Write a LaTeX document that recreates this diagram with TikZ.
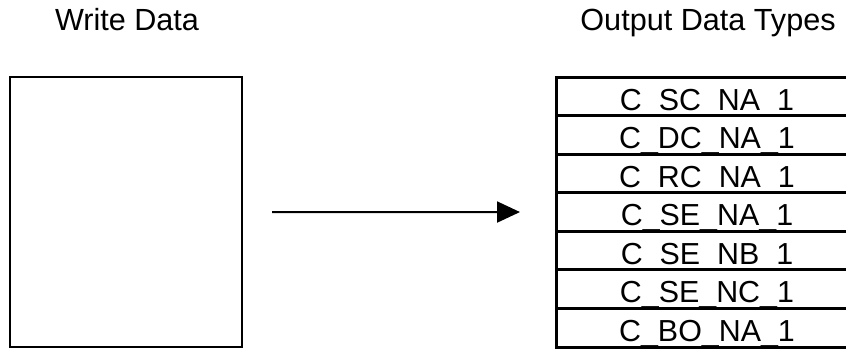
\documentclass[tikz,border=0pt]{standalone}
\usepackage{fontspec}
\setmainfont{Liberation Sans}
\usetikzlibrary{positioning,arrows.meta}

\begin{document}
\begin{tikzpicture}[
  x=0.5pt, y=-0.5pt,
  title/.style={anchor=base, inner sep=0pt, font=\fontsize{15.3pt}{18pt}\selectfont},
  box/.style={draw, rectangle, line width=1.2pt, minimum width=116pt, minimum height=135pt},
  row/.style={draw, rectangle, line width=1.5pt, inner sep=0pt, outer sep=0pt,
              minimum width=151pt, minimum height=19.29pt, text height=16.54pt, text depth=2.75pt,
              font=\fontsize{15.2pt}{18pt}\selectfont},
  arrow/.style={-{Triangle[length=11.5pt,width=10.5pt]}, line width=1pt}
]
\clip (0, 0) rectangle (846, 349);

% Titles
\node[title] (writetitle) at (127, 30) {Write Data};
\node[title] (outtitle) at (708, 30) {Output Data Types};

% Write data box
\node[box] (writebox) at (126, 212) {};

% Output data types table
\node[row] (scna) at (707, 96.3) {C\_SC\_NA\_1};
\node[row, below=0pt of scna] (dcna) {C\_DC\_NA\_1};
\node[row, below=0pt of dcna] (rcna) {C\_RC\_NA\_1};
\node[row, below=0pt of rcna] (sena) {C\_SE\_NA\_1};
\node[row, below=0pt of sena] (senb) {C\_SE\_NB\_1};
\node[row, below=0pt of senb] (senc) {C\_SE\_NC\_1};
\node[row, below=0pt of senc] (bona) {C\_BO\_NA\_1};

% Arrow
\draw[arrow, shorten <=14.5pt, shorten >=18pt] (writebox) -- (sena);

\end{tikzpicture}
\end{document}
